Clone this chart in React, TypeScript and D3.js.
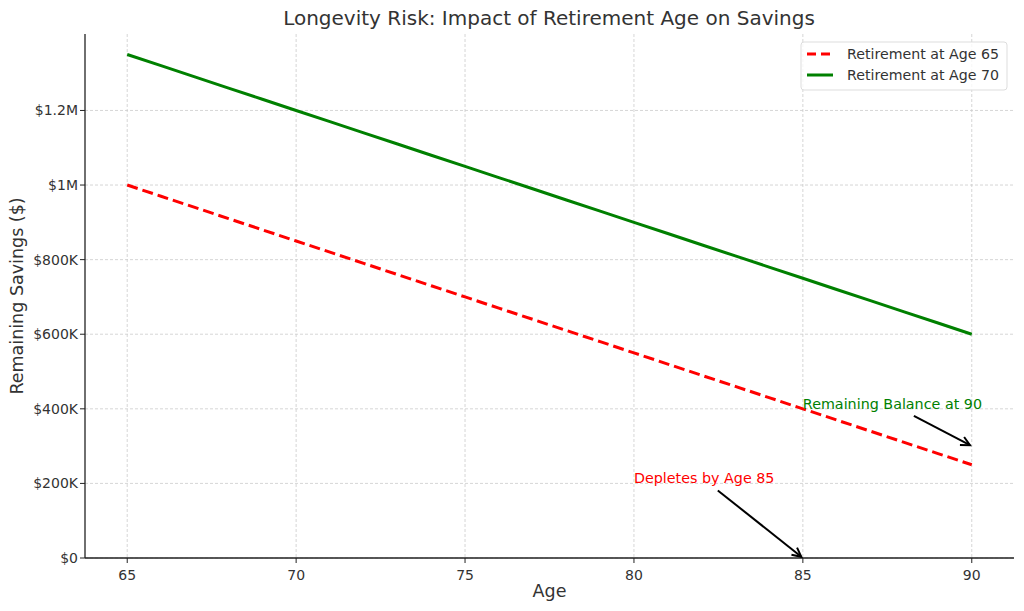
import React from "react";
import * as d3 from "d3";

const ages = [65, 66, 67, 68, 69, 70, 71, 72, 73, 74, 75, 76, 77, 78, 79, 80, 81, 82, 83, 84, 85, 86, 87, 88, 89, 90];
const savings65 = [1000000, 970000, 940000, 910000, 880000, 850000, 820000, 790000, 760000, 730000, 700000, 670000, 640000, 610000, 580000, 550000, 520000, 490000, 460000, 430000, 400000, 370000, 340000, 310000, 280000, 250000];
const savings70 = [1350000, 1320000, 1290000, 1260000, 1230000, 1200000, 1170000, 1140000, 1110000, 1080000, 1050000, 1020000, 990000, 960000, 930000, 900000, 870000, 840000, 810000, 780000, 750000, 720000, 690000, 660000, 630000, 600000];
const xTicks = [65, 70, 75, 80, 85, 90];
const yTicks = [0, 200000, 400000, 600000, 800000, 1000000, 1200000];
const yTickLabels = ["$0", "$200K", "$400K", "$600K", "$800K", "$1M", "$1.2M"];
const seriesNames = ["Retirement at Age 65", "Retirement at Age 70"];
const annotations = [
  { text: "Depletes by Age 85", textAt: [80, 200000], target: [85, 0], color: "red" },
  { text: "Remaining Balance at 90", textAt: [85, 400000], target: [90, 300000], color: "green" },
];

export default function App() {
  const W = 1024, H = 611;
  const left = 85, right = 1014, top = 34, bottom = 558;
  const x = d3.scaleLinear().domain([63.75, 91.25]).range([left, right]);
  const y = d3.scaleLinear().domain([0, 1405000]).range([bottom, top]);
  const line = d3.line<number>().x((_, i) => x(ages[i])).y((d) => y(d));
  const font = "DejaVu Sans, sans-serif";
  const txt = "#333";

  const arrow = (a: typeof annotations[0], i: number) => {
    const tx = x(a.textAt[0]);
    const ty = y(a.textAt[1]);
    const ex = x(a.target[0]);
    const ey = y(a.target[1]);
    const w = i === 0 ? 140 : 180;
    const cx = tx + w / 2;
    const cy = ty - 4;
    const dx = ex - cx, dy = ey - cy;
    const t0 = 11 / dy;
    const sx = cx + dx * t0, sy = cy + dy * t0;
    const len = Math.hypot(ex - sx, ey - sy);
    const ux = (ex - sx) / len, uy = (ey - sy) / len;
    const hx = ex - ux * 2, hy = ey - uy * 2;
    const hl = 9, hw = 4.5;
    const bx = hx - ux * hl, by = hy - uy * hl;
    const p1 = [bx - uy * hw, by + ux * hw];
    const p2 = [bx + uy * hw, by - ux * hw];
    return (
      <g key={i}>
        <text x={tx} y={ty} fill={a.color} fontSize={14.3} fontFamily={font}>{a.text}</text>
        <line x1={sx} y1={sy} x2={hx} y2={hy} stroke="black" strokeWidth={2} />
        <polyline points={`${p1[0]},${p1[1]} ${hx},${hy} ${p2[0]},${p2[1]}`} fill="none" stroke="black" strokeWidth={2} />
      </g>
    );
  };

  return (
    <svg width={W} height={H} style={{ position: "absolute", left: 0, top: 0, background: "white" }}>
      <rect width={W} height={H} fill="white" />
      {xTicks.map((t) => (
        <line key={"gx" + t} x1={x(t)} x2={x(t)} y1={top} y2={bottom} stroke="#cccccc" strokeWidth={0.8} strokeDasharray="3,2" />
      ))}
      {yTicks.map((t) => (
        <line key={"gy" + t} x1={left} x2={right} y1={y(t)} y2={y(t)} stroke="#cccccc" strokeWidth={0.8} strokeDasharray="3,2" />
      ))}
      <path d={line(savings65) || ""} fill="none" stroke="red" strokeWidth={3} strokeDasharray="11,5" />
      <path d={line(savings70) || ""} fill="none" stroke="green" strokeWidth={3} />
      <line x1={left} x2={left} y1={top} y2={bottom} stroke="#222" strokeWidth={1.3} />
      <line x1={left} x2={right} y1={bottom} y2={bottom} stroke="#222" strokeWidth={1.3} />
      {xTicks.map((t) => (
        <g key={"xt" + t}>
          <line x1={x(t)} x2={x(t)} y1={bottom} y2={bottom + 5} stroke="#222" strokeWidth={1} />
          <text x={x(t)} y={bottom + 22} textAnchor="middle" fontSize={14} fill={txt} fontFamily={font}>{t}</text>
        </g>
      ))}
      {yTicks.map((t, i) => (
        <g key={"yt" + t}>
          <line x1={left - 5} x2={left} y1={y(t)} y2={y(t)} stroke="#222" strokeWidth={1} />
          <text x={left - 7} y={y(t)} dy="0.35em" textAnchor="end" fontSize={14} fill={txt} fontFamily={font}>{yTickLabels[i]}</text>
        </g>
      ))}
      <text x={(left + right) / 2} y={597} textAnchor="middle" fontSize={17.5} fill={txt} fontFamily={font}>Age</text>
      <text transform={`translate(23, ${(top + bottom) / 2}) rotate(-90)`} textAnchor="middle" fontSize={17.5} fill={txt} fontFamily={font}>Remaining Savings ($)</text>
      <text x={549} y={25} textAnchor="middle" fontSize={20} fill={txt} fontFamily={font}>Longevity Risk: Impact of Retirement Age on Savings</text>
      <g>
        <rect x={801} y={42} width={206} height={48} rx={3} fill="white" fillOpacity={0.8} stroke="#dddddd" strokeWidth={1} />
        <line x1={807} x2={833} y1={54} y2={54} stroke="red" strokeWidth={3} strokeDasharray="9,5" />
        <text x={847} y={54} dy="0.35em" fontSize={14.2} fill={txt} fontFamily={font}>{seriesNames[0]}</text>
        <line x1={807} x2={833} y1={75} y2={75} stroke="green" strokeWidth={3} />
        <text x={847} y={75} dy="0.35em" fontSize={14.2} fill={txt} fontFamily={font}>{seriesNames[1]}</text>
      </g>
      {annotations.map(arrow)}
    </svg>
  );
}
